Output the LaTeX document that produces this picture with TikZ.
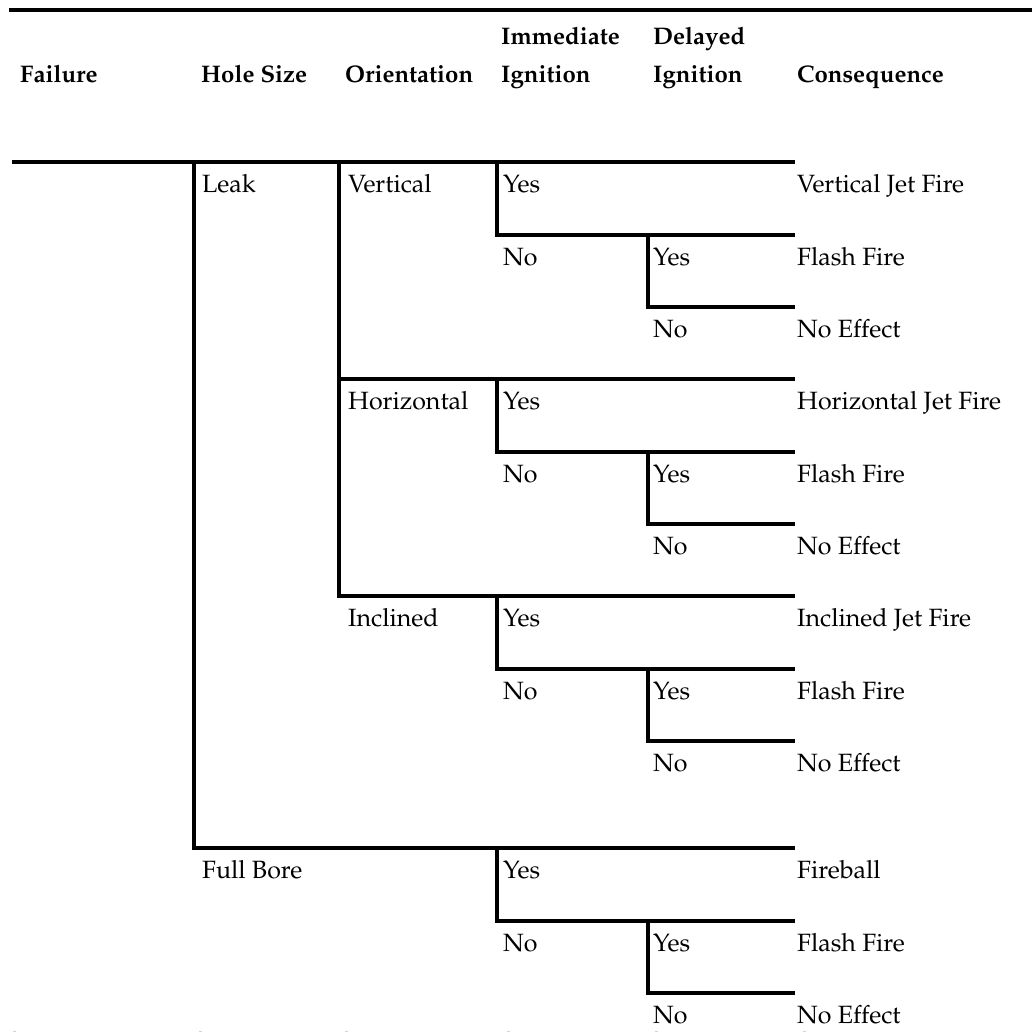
\documentclass[tikz,border=0pt]{standalone}
\usepackage[T1]{fontenc}
\renewcommand{\rmdefault}{ppl}
\begin{document}
\begin{tikzpicture}[x=1pt,y=-1pt,
  tree/.style={line width=3.2pt, line cap=rect},
  lbl/.style={anchor=base west, inner sep=0pt, font=\fontsize{25}{29}\selectfont},
  hdr/.style={anchor=base west, inner sep=0pt, font=\fontsize{24}{28}\selectfont\bfseries},
  faint/.style={line width=1pt, gray!35}]
\useasboundingbox (0,0) rectangle (1032,1034);
% top rule
\draw[line width=3.6pt] (9,10) -- (1032,10);
% headers
\node[hdr] (hF) at (20,82) {Failure};
\node[hdr] (hH) at (201,82) {Hole Size};
\node[hdr] (hO) at (345,82) {Orientation};
\node[hdr] (hI1) at (501,44) {Immediate};
\node[hdr] (hI2) at (501,82) {Ignition};
\node[hdr] (hD1) at (653,44) {Delayed};
\node[hdr] (hD2) at (653,82) {Ignition};
\node[hdr] (hC) at (797,82) {Consequence};
% coordinates
\def\xa{14}\def\xb{194}\def\xc{339}\def\xd{497}\def\xe{648}\def\xf{793}
% tree lines
\draw[tree] (\xa,162) -- (\xf,162);
\draw[tree] (\xb,162) -- (\xb,848) -- (\xf,848);
\draw[tree] (\xc,162) -- (\xc,596) -- (\xf,596);
\draw[tree] (\xc,379) -- (\xf,379);
\foreach \y in {162,379,596,848}{
  \draw[tree] (\xd,\y) -- (\xd,\y+73) -- (\xf,\y+73);
  \draw[tree] (\xe,\y+73) -- (\xe,\y+145) -- (\xf,\y+145);
}
% labels
\node[lbl] (leak) at (202,192) {Leak};
\node[lbl] (full) at (202,878) {Full Bore};
\node[lbl] (vert) at (348,192) {Vertical};
\node[lbl] (hori) at (348,409) {Horizontal};
\node[lbl] (incl) at (348,626) {Inclined};
\foreach \y/\n/\c in {192/1/Vertical Jet Fire,409/2/Horizontal Jet Fire,626/3/Inclined Jet Fire,878/4/Fireball}{
  \node[lbl] (iy\n) at (503,\y) {Yes};
  \node[lbl] (in\n) at (503,\y+73) {No};
  \node[lbl] (dy\n) at (653,\y+73) {Yes};
  \node[lbl] (dn\n) at (653,\y+145) {No};
  \node[lbl] (c1\n) at (797,\y) {\c};
  \node[lbl] (c2\n) at (797,\y+73) {Flash Fire};
  \node[lbl] (c3\n) at (797,\y+145) {No Effect};
}
% faint bottom marks
\foreach \x in {13,199,345,507,655,803}{
  \draw[faint] (\x,1031) -- (\x+3,1031);
}
\end{tikzpicture}
\end{document}
